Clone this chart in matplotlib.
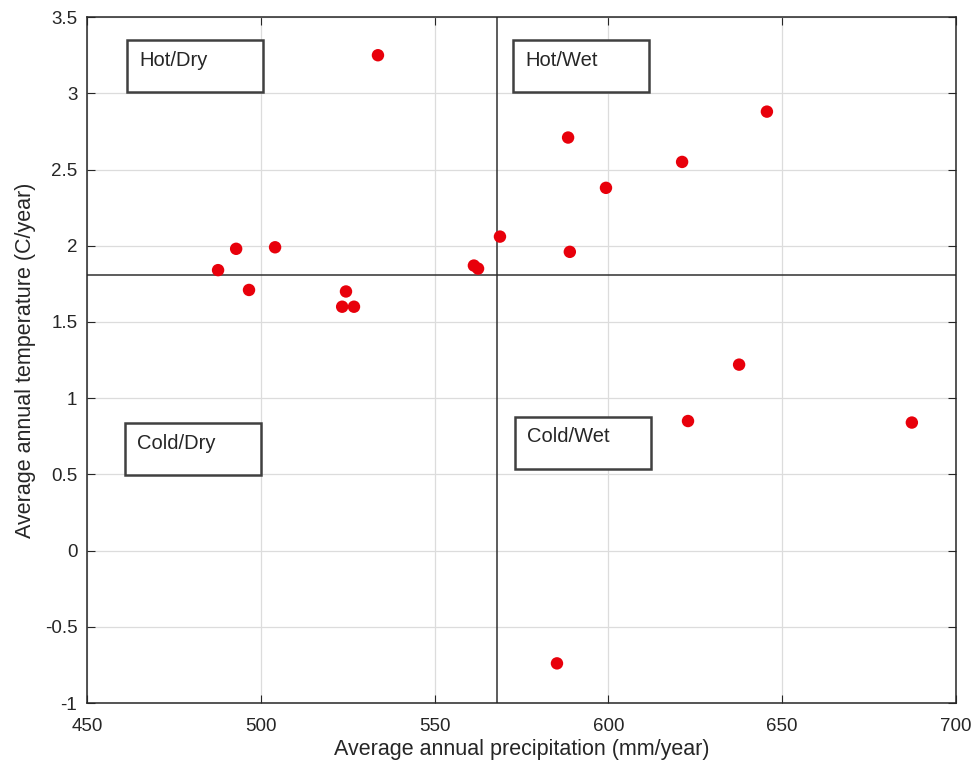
import numpy as np
import matplotlib.pyplot as plt
from matplotlib.patches import Rectangle

plt.rcParams['font.family'] = ['Liberation Sans', 'DejaVu Sans']

precip = [487.7, 492.9, 496.6, 504.1, 524.5, 523.4, 526.8, 533.7, 561.3, 562.5,
          568.8, 588.4, 588.9, 599.3, 621.2, 645.6, 637.6, 622.9, 687.3, 585.2]
temp = [1.84, 1.98, 1.71, 1.99, 1.70, 1.60, 1.60, 3.25, 1.87, 1.85,
        2.06, 2.71, 1.96, 2.38, 2.55, 2.88, 1.22, 0.85, 0.84, -0.74]

quadrants = ['Hot/Dry', 'Hot/Wet', 'Cold/Dry', 'Cold/Wet']
# box corners in axes fraction (x0, y_top)
box_pos = [(0.046, 0.966), (0.490, 0.966), (0.0437, 0.408), (0.4925, 0.417)]

fig = plt.figure(figsize=(9.79, 7.75), dpi=100)
ax = fig.add_axes([0.0889, 0.0929, 0.8876, 0.885])

ax.grid(True, color='#dcdcdc', linewidth=0.9)
ax.set_axisbelow(True)
ax.scatter(precip, temp, s=80, color='#e8000b', edgecolors='none', zorder=3)

# quadrant split at the means
ax.axvline(np.mean(precip), color='#303030', linewidth=1.1, zorder=2)
ax.axhline(np.mean(temp), color='#303030', linewidth=1.1, zorder=2)

ax.set_xlim(450, 700)
ax.set_ylim(-1, 3.5)
ax.set_xticks([450, 500, 550, 600, 650, 700])
ax.set_yticks([-1, -0.5, 0, 0.5, 1, 1.5, 2, 2.5, 3, 3.5])
ax.set_yticklabels(['-1', '-0.5', '0', '0.5', '1', '1.5', '2', '2.5', '3', '3.5'])
ax.tick_params(direction='in', top=True, right=True, length=6, labelsize=13.5,
               color='#262626', labelcolor='#262626')
ax.tick_params(axis='x', pad=11)
ax.tick_params(axis='y', pad=7)
for sp in ax.spines.values():
    sp.set_color('#262626')
    sp.set_linewidth(1.1)

ax.set_xlabel('Average annual precipitation (mm/year)', fontsize=15.5,
              color='#262626', labelpad=3)
ax.set_ylabel('Average annual temperature (C/year)', fontsize=15.5,
              color='#262626', labelpad=6)

w, h = 0.1565, 0.0758
for label, (x0, ytop) in zip(quadrants, box_pos):
    ax.add_patch(Rectangle((x0, ytop - h), w, h, transform=ax.transAxes,
                           fill=True, facecolor='white', edgecolor='#404040',
                           linewidth=1.8, zorder=4))
    ax.text(x0 + 0.014, ytop - 0.029, label, transform=ax.transAxes,
            fontsize=14.5, color='#262626', va='center', ha='left', zorder=5)

fig.savefig('out.png', dpi=100)
